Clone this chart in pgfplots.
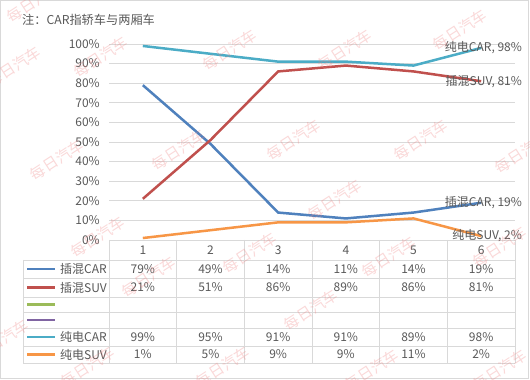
\documentclass[border=0pt]{standalone}
\usepackage{pgfplots}
\pgfplotsset{compat=1.18}
\usepackage{fontspec}
\setmainfont{Noto Sans CJK SC}
\definecolor{txt}{HTML}{595959}
\definecolor{gridgray}{HTML}{D9D9D9}
\definecolor{cBlue}{HTML}{4F81BD}
\definecolor{cRed}{HTML}{C0504D}
\definecolor{cGreen}{HTML}{9BBB59}
\definecolor{cPurple}{HTML}{8064A2}
\definecolor{cCyan}{HTML}{4BACC6}
\definecolor{cOrange}{HTML}{F79646}
\definecolor{wm}{HTML}{F08080}
\newcommand\f{\fontsize{12}{13}\selectfont}
\begin{document}
\begin{tikzpicture}[x=1pt,y=1pt]
\path[use as bounding box] (0,0) rectangle (530,380);
\fill[white] (0,0) rectangle (530,380);
\draw[gridgray,line width=1pt] (0.5,1.5) rectangle (528.5,379.5);
\node[anchor=west, font=\fontsize{12.2}{14}\selectfont, text=txt, inner sep=0pt] at (22,360) {注：CAR指轿车与两厢车};
\begin{axis}[at={(109pt,140pt)}, anchor=south west, scale only axis,
  width=406pt, height=196pt, xmin=0.5, xmax=6.5, ymin=0, ymax=100,
  ytick={0,10,...,100},
  yticklabels={0\%,10\%,20\%,30\%,40\%,50\%,60\%,70\%,80\%,90\%,100\%},
  xtick={1,...,6}, xticklabels={1,2,3,4,5,6},
  ymajorgrids, grid style={gridgray, line width=0.8pt},
  axis line style={draw=none}, major tick length=0pt,
  tick label style={font=\f, text=txt},
  yticklabel style={anchor=east, inner sep=0pt, xshift=-9pt},
  xticklabel style={anchor=center, inner sep=0pt, yshift=-10pt},
  clip=false]
\addplot[cBlue, line width=2.5pt] coordinates {(1,79)(2,49)(3,14)(4,11)(5,14)(6,19)}
  node[pos=1, anchor=east, xshift=42pt, font=\f, text=txt, inner sep=0pt] {插混CAR, 19\%};
\addplot[cRed, line width=2.5pt] coordinates {(1,21)(2,51)(3,86)(4,89)(5,86)(6,81)}
  node[pos=1, anchor=east, xshift=42pt, font=\f, text=txt, inner sep=0pt] {插混SUV, 81\%};
\addplot[cCyan, line width=2.5pt] coordinates {(1,99)(2,95)(3,91)(4,91)(5,89)(6,98)}
  node[pos=1, anchor=east, xshift=42pt, font=\f, text=txt, inner sep=0pt] {纯电CAR, 98\%};
\addplot[cOrange, line width=2.5pt] coordinates {(1,1)(2,5)(3,9)(4,9)(5,11)(6,2)}
  node[pos=1, anchor=east, xshift=42pt, font=\f, text=txt, inner sep=0pt] {纯电SUV, 2\%};
\end{axis}
% data table
\foreach \yy in {120,102,83,68,52,34,17} \draw[gridgray,line width=0.8pt] (23,\yy) -- (515,\yy);
\foreach \k in {0,...,6} \draw[gridgray,line width=0.8pt] (109+\k*67.667,140) -- (109+\k*67.667,17);
\draw[gridgray,line width=0.8pt] (23,120) -- (23,17);
\foreach \yy/\c/\lab in {111/cBlue/插混CAR, 92.5/cRed/插混SUV, 75.5/cGreen/{}, 60/cPurple/{}, 43/cCyan/纯电CAR, 25.5/cOrange/纯电SUV}{
  \draw[\c, line width=2.5pt] (27,\yy) -- (55,\yy);
  \node[anchor=east, font=\f, text=txt, inner sep=0pt] at (107,\yy) {\lab};
}
\foreach \yy/\vals in {111/{79,49,14,11,14,19}, 92.5/{21,51,86,89,86,81}, 43/{99,95,91,91,89,98}, 25.5/{1,5,9,9,11,2}}{
  \foreach \v [count=\i from 0] in \vals
    \node[font=\f, text=txt, inner sep=0pt] at (142.8+\i*67.667,\yy) {\v\%};
}
% watermark
\foreach \wx/\wy in {34/378, 14/313, 101/323, 230/330, 345/330, 460/350, 57/220, 179/230, 294/240, 421/240, 522/227, 98/143, 335/180, 250/127, 389/123, 500/133, 149/103, 311/70, 88/13, 223/13, 372/10, 500/10, 2/40}
  \node[rotate=33, text=wm, opacity=0.3, font=\fontsize{15}{15}\selectfont] at (\wx,\wy) {每日汽车};
\end{tikzpicture}
\end{document}
